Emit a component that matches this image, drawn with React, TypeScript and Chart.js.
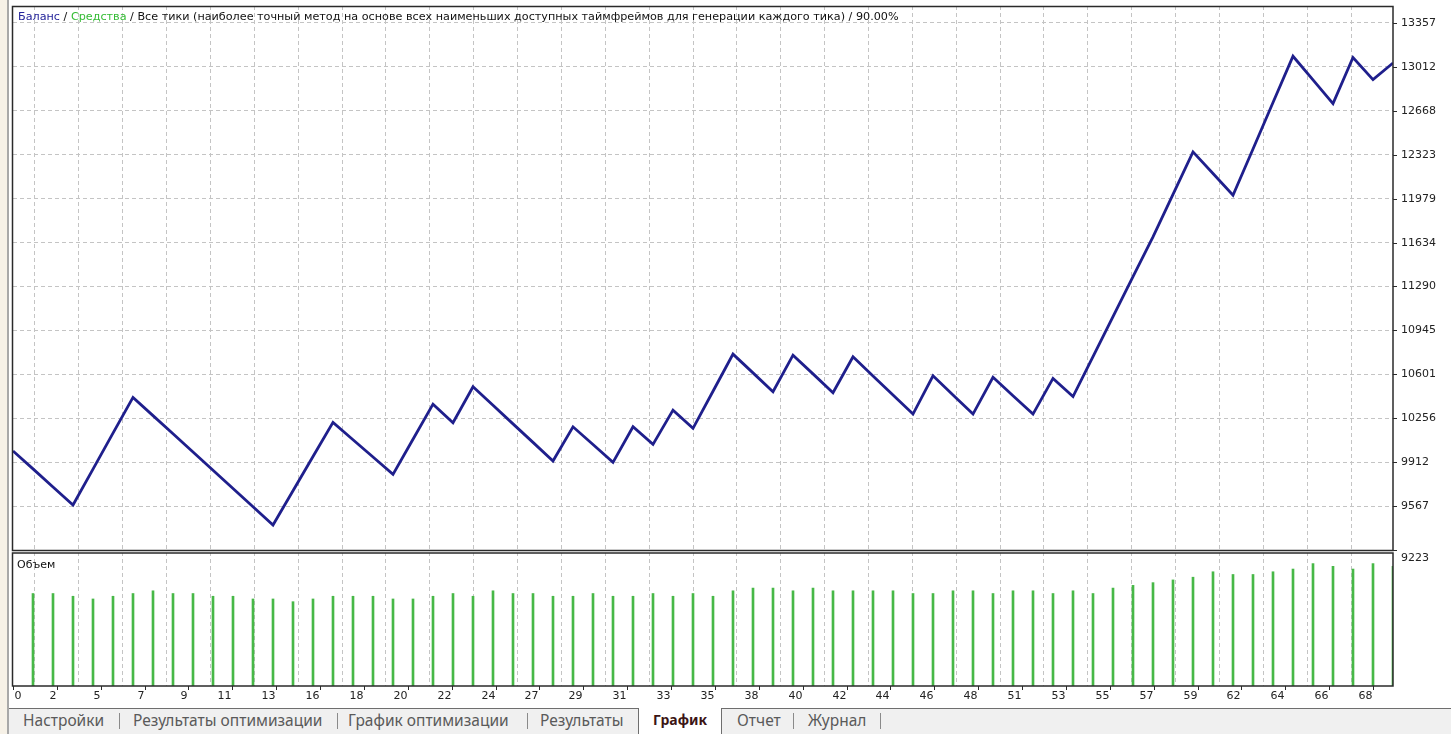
import React, { useEffect, useRef } from 'react';
import { Chart, registerables } from 'chart.js';

Chart.register(...registerables);

// ---------- data ----------
const balance = [
  10000, 9859, 9717, 9576, 9857, 10139, 10420, 10277, 10134, 9991,
  9848, 9705, 9562, 9419, 9687, 9956, 10224, 10088, 9952, 9816,
  10092, 10367, 10221, 10503, 10358, 10212, 10067, 9921, 10189, 10050,
  9910, 10189, 10051, 10320, 10177, 10468, 10759, 10612, 10464, 10751,
  10604, 10456, 10738, 10588, 10439, 10289, 10589, 10439, 10289, 10577,
  10433, 10289, 10569, 10426, 10739, 11053, 11366, 11679, 12012, 12345,
  12175, 12005, 12368, 12732, 13095, 12910, 12724, 13085, 12912, 13042,
];

// volume (lots) for trades 1..69
const volume = [
  0.34, 0.34, 0.33, 0.32, 0.33, 0.34, 0.35, 0.34, 0.34, 0.33,
  0.33, 0.32, 0.32, 0.31, 0.32, 0.33, 0.33, 0.33, 0.32, 0.32,
  0.33, 0.34, 0.33, 0.35, 0.34, 0.34, 0.33, 0.33, 0.34, 0.33,
  0.33, 0.34, 0.33, 0.34, 0.33, 0.35, 0.36, 0.36, 0.35, 0.36,
  0.35, 0.35, 0.35, 0.35, 0.34, 0.34, 0.35, 0.35, 0.34, 0.35,
  0.35, 0.34, 0.35, 0.34, 0.36, 0.37, 0.38, 0.39, 0.40, 0.42,
  0.41, 0.41, 0.42, 0.43, 0.45, 0.44, 0.43, 0.45, 0.44,
];

const xTickLabels = [
  '0', '2', '5', '7', '9', '11', '13', '16', '18', '20', '22', '24', '27', '29', '31', '33',
  '35', '38', '40', '42', '44', '46', '48', '51', '53', '55', '57', '59', '62', '64', '66', '68',
];
const yTickLabels = [9223, 9567, 9912, 10256, 10601, 10945, 11290, 11634, 11979, 12323, 12668, 13012, 13357];

const Y_MIN = 9223;
const Y_MAX = 13489;
const VOL_MAX = 0.5;
const X_MAX = 69;

const titleParts = [
  { text: 'Баланс', color: '#24249a' },
  { text: ' / ', color: '#111' },
  { text: 'Средства', color: '#33bb33' },
  {
    text: ' / Все тики (наиболее точный метод на основе всех наименьших доступных таймфреймов для генерации каждого тика) / 90.00%',
    color: '#111',
  },
];
const volumeTitle = 'Объем';

const tabs = [
  { label: 'Настройки', left: 23 },
  { label: 'Результаты оптимизации', left: 133 },
  { label: 'График оптимизации', left: 348 },
  { label: 'Результаты', left: 540 },
  { label: 'Отчет', left: 737 },
  { label: 'Журнал', left: 808 },
];
const tabSeparators = [119, 337, 527, 793, 880];
const activeTab = 'График';

const FONT = '"DejaVu Sans", sans-serif';

const mtPlugin = {
  id: 'mtDecor',
  afterDraw(chart: any) {
    const { ctx, chartArea: ca, scales } = chart;
    const y = scales.y;
    const x = scales.x;
    ctx.save();
    // gap between panels
    ctx.fillStyle = '#ffffff';
    ctx.fillRect(ca.left, y.bottom, ca.right - ca.left, 3);

    // borders
    ctx.strokeStyle = '#2a2a2a';
    ctx.lineWidth = 1.5;
    ctx.setLineDash([]);
    ctx.strokeRect(ca.left - 0.5, ca.top + 0.5, ca.right - ca.left + 0.5, y.bottom - ca.top);
    ctx.strokeRect(ca.left - 0.5, y.bottom + 3, ca.right - ca.left + 0.5, ca.bottom - y.bottom - 3);

    // y ticks + labels
    ctx.font = '11px ' + FONT;
    ctx.fillStyle = '#222';
    ctx.textAlign = 'left';
    ctx.textBaseline = 'middle';
    ctx.lineWidth = 1;
    yTickLabels.forEach((v, i) => {
      const py = Math.round(y.getPixelForValue(v)) + 0.5;
      ctx.beginPath();
      ctx.moveTo(ca.right, py);
      ctx.lineTo(ca.right + 4, py);
      ctx.stroke();
      ctx.fillText(String(v), ca.right + 8, i === 0 ? py + 8 : py);
    });

    // x ticks + labels
    ctx.textBaseline = 'middle';
    x.ticks.forEach((t: any, j: number) => {
      const px = Math.round(x.getPixelForValue(t.value)) + 0.5;
      ctx.beginPath();
      ctx.moveTo(px, ca.bottom);
      ctx.lineTo(px, ca.bottom + 4);
      ctx.stroke();
      const lab = xTickLabels[j];
      if (j === 0) {
        ctx.textAlign = 'left';
        ctx.fillText(lab, px + 1, ca.bottom + 10);
      } else {
        ctx.textAlign = 'right';
        ctx.fillText(lab, px - 1, ca.bottom + 10);
      }
    });

    // title
    ctx.textAlign = 'left';
    ctx.font = '11.2px ' + FONT;
    let tx = ca.left + 5;
    titleParts.forEach((p) => {
      ctx.fillStyle = p.color;
      ctx.fillText(p.text, tx, ca.top + 11);
      tx += ctx.measureText(p.text).width;
    });

    // volume title
    ctx.fillStyle = '#111';
    ctx.font = '11px ' + FONT;
    ctx.fillText(volumeTitle, ca.left + 4, y.bottom + 15);
    ctx.restore();
  },
};

export default function App() {
  const ref = useRef<HTMLCanvasElement>(null);

  useEffect(() => {
    const lineData = balance.map((v, i) => ({ x: i, y: v }));
    const barData = volume.map((v, i) => ({ x: i + 1, y: v }));
    const xStep = Number(xTickLabels[xTickLabels.length - 1]) / (xTickLabels.length - 1);

    const chart = new Chart(ref.current as HTMLCanvasElement, {
      type: 'line',
      data: {
        datasets: [
          {
            type: 'line',
            data: lineData,
            xAxisID: 'x',
            yAxisID: 'y',
            borderColor: '#1f1f8c',
            borderWidth: 2.8,
            pointRadius: 0,
            tension: 0,
            fill: false,
          } as any,
          {
            type: 'bar',
            data: barData,
            xAxisID: 'x',
            yAxisID: 'yv',
            backgroundColor: '#47b847',
            borderWidth: 0,
            barThickness: 2,
          } as any,
        ],
      },
      plugins: [mtPlugin],
      options: {
        responsive: false,
        animation: false,
        events: [],
        layout: { padding: { left: 13, top: 6, right: 0, bottom: 0 } },
        plugins: { legend: { display: false }, tooltip: { enabled: false } },
        scales: {
          x: {
            type: 'linear',
            position: 'bottom',
            min: 0,
            max: X_MAX,
            offset: false,
            afterBuildTicks: (s: any) => {
              s.ticks = xTickLabels.map((_, j) => ({ value: j * xStep }));
            },
            afterFit: (s: any) => {
              s.height = 22;
            },
            ticks: { display: false },
            grid: { color: '#c4c4c4', lineWidth: 1, drawTicks: false },
            border: { display: false, dash: [4, 3] },
          },
          y: {
            type: 'linear',
            position: 'right',
            stack: 'panels',
            stackWeight: 4,
            min: Y_MIN,
            max: Y_MAX,
            afterBuildTicks: (s: any) => {
              s.ticks = yTickLabels.map((v) => ({ value: v }));
            },
            afterFit: (s: any) => {
              s.width = 58;
            },
            ticks: { display: false },
            grid: { color: '#c4c4c4', lineWidth: 1, drawTicks: false },
            border: { display: false, dash: [4, 3] },
          },
          yv: {
            type: 'linear',
            position: 'right',
            stack: 'panels',
            stackWeight: 1,
            min: 0,
            max: VOL_MAX,
            afterFit: (s: any) => {
              s.width = 58;
            },
            ticks: { display: false },
            grid: { display: false, drawTicks: false },
            border: { display: false },
          },
        } as any,
      },
    } as any);
    return () => chart.destroy();
  }, []);

  return (
    <div
      style={{
        position: 'fixed',
        left: 0,
        top: 0,
        width: 1451,
        height: 734,
        background: '#ffffff',
        overflow: 'hidden',
      }}
    >
      <canvas
        ref={ref}
        width={1451}
        height={708}
        style={{ position: 'absolute', left: 0, top: 0, width: 1451, height: 708, display: 'block' }}
      />
      <div
        style={{
          position: 'absolute',
          left: 0,
          top: 708,
          width: 1451,
          height: 26,
          background: '#f0f0f0',
          borderTop: '1px solid #6e6e6e',
          fontFamily: '"Noto Sans", sans-serif',
          fontSize: 15.5,
          color: '#5a5a5a',
        }}
      >
        {tabs.map((t, i) => (
          <span
            key={i}
            style={{ position: 'absolute', left: t.left, top: 0, lineHeight: '22px', whiteSpace: 'nowrap' }}
          >
            {t.label}
          </span>
        ))}
        {tabSeparators.map((l, i) => (
          <div
            key={'s' + i}
            style={{ position: 'absolute', left: l, top: 4, width: 1, height: 16, background: '#8a8a8a' }}
          />
        ))}
        <div
          style={{
            position: 'absolute',
            left: 638,
            top: -1,
            width: 82,
            height: 26,
            background: '#ffffff',
            borderLeft: '1px solid #6e6e6e',
            borderRight: '1px solid #6e6e6e',
            textAlign: 'center',
            lineHeight: '23px',
            fontSize: 14,
            fontWeight: 'bold',
            color: '#3b1414',
          }}
        >
          {activeTab}
        </div>
      </div>
      <div style={{ position: 'absolute', left: 0, top: 0, width: 7, height: 734, background: '#f6f1e7' }} />
      <div style={{ position: 'absolute', left: 7, top: 0, width: 2, height: 734, background: '#a8a8a8' }} />
    </div>
  );
}
